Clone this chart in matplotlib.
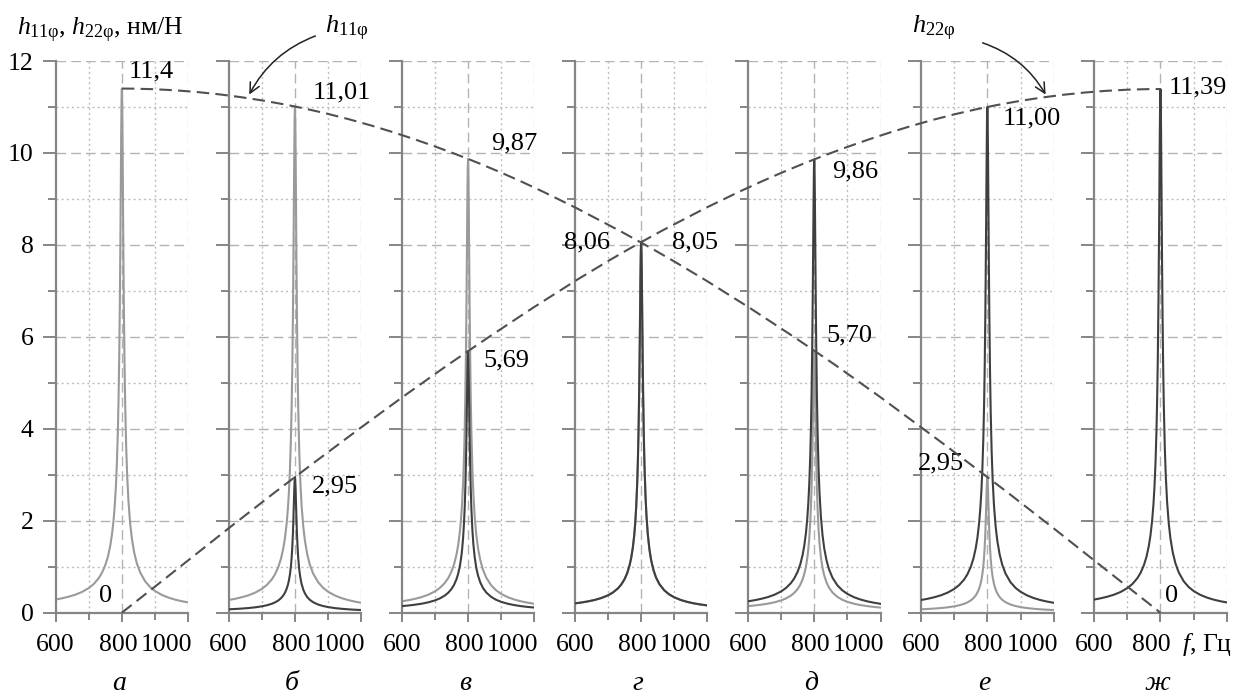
import numpy as np
import matplotlib
matplotlib.use('Agg')
import matplotlib.pyplot as plt
from matplotlib.path import Path
from matplotlib.patches import PathPatch
from matplotlib.ticker import FixedLocator, MultipleLocator

plt.rcParams['font.family'] = ['Liberation Serif', 'DejaVu Serif']
plt.rcParams['mathtext.fontset'] = 'custom'
plt.rcParams['mathtext.rm'] = 'Liberation Serif'
plt.rcParams['mathtext.it'] = 'Liberation Serif:italic'
plt.rcParams['mathtext.bf'] = 'Liberation Serif:bold'

# ---------------- data ----------------
panel_names = ['а', 'б', 'в', 'г', 'д', 'е', 'ж']
# normalised resonance response (frequency, Hz / relative amplitude)
shape_f = [600, 620, 640, 660, 680, 700, 715, 730, 740, 750, 758, 765, 770, 775, 779,
           782, 785, 788, 790, 792, 794, 795.5, 797, 798, 799, 800, 801, 802, 803,
           804.5, 806, 808, 810, 813, 816, 820, 825, 830, 837, 845, 855, 870, 885,
           900, 920, 940, 960, 980, 1000]
shape_v = [0.0251, 0.0275, 0.0306, 0.0344, 0.0396, 0.0469, 0.0546, 0.0656, 0.0760,
           0.0905, 0.1070, 0.1276, 0.1480, 0.1762, 0.2079, 0.2403, 0.2844, 0.3472,
           0.4057, 0.4849, 0.5944, 0.7023, 0.8288, 0.9124, 0.9763, 1.0, 0.9739,
           0.9083, 0.8237, 0.6962, 0.5884, 0.4790, 0.3998, 0.3178, 0.2624, 0.2121,
           0.1706, 0.1424, 0.1154, 0.0946, 0.0771, 0.0601, 0.0491, 0.0414, 0.0341,
           0.0289, 0.0250, 0.0220, 0.0196]
# peak values, nm/N
h11_peak = [11.4, 11.01, 9.87, 8.05, 5.70, 2.95, 0.0]
h22_peak = [0.0, 2.95, 5.69, 8.06, 9.86, 11.00, 11.39]
h11_text = ['11,4', '11,01', '9,87', '8,05', '5,70', '2,95', '0']
h22_text = ['0', '2,95', '5,69', '8,06', '9,86', '11,00', '11,39']
x_ticks = [600, 800, 1000]
x_minor = [700, 900]
x_ticklabels = ['600', '800', '1000']
y_ticks = [0, 2, 4, 6, 8, 10, 12]

# ---------------- layout / style ----------------
W, H = 1247, 698
LEFT0, STEP, PW = 55.5, 173.1, 132.7
YB, YT = 612.7, 61.0
FS = 19
TFS = 18.5
SPINE = '#858585'
LIGHT = '#9a9a9a'
DARK = '#3f3f3f'
GRID = '#b3b3b3'
# label offsets in pixels (dx right, dy down) relative to the peak point
h11_off = [(29, -17), (47, -14), (46, -15), (54, 0), (35, -15), (-46, -14), (11, -17)]
h22_off = [(-16, -17), (40, 9), (38, 9), (-54, 0), (41, 12), (44, 11), (37, -2)]

fig = plt.figure(figsize=(W / 100, H / 100), dpi=100)
bottom = (H - YB) / H
height = (YB - YT) / H

shape_f = np.array(shape_f)
shape_v = np.array(shape_v)

for i, name in enumerate(panel_names):
    ax = fig.add_axes([(LEFT0 + i * STEP) / W, bottom, PW / W, height])
    ax.set_xlim(600, 1000)
    ax.set_ylim(0, 12)
    for s in ('top', 'right'):
        ax.spines[s].set_visible(False)
    for s in ('left', 'bottom'):
        ax.spines[s].set_color(SPINE)
        ax.spines[s].set_linewidth(1.6)
    ax.xaxis.set_major_locator(FixedLocator(x_ticks))
    ax.xaxis.set_minor_locator(FixedLocator(x_minor))
    ax.yaxis.set_major_locator(FixedLocator(y_ticks))
    ax.yaxis.set_minor_locator(MultipleLocator(1))
    ax.tick_params(axis='y', which='major', length=9.4, width=1.4, color=SPINE,
                   direction='out', labelsize=TFS, pad=6.5, labelleft=(i == 0))
    ax.tick_params(axis='y', which='minor', length=5.8, width=1.4, color=SPINE, direction='out')
    ax.tick_params(axis='x', which='major', length=6.5, width=1.4, color=SPINE,
                   direction='out', labelbottom=False)
    ax.tick_params(axis='x', which='minor', length=5.0, width=1.4, color=SPINE, direction='out')

    # grid
    for y in range(1, 13):
        if y % 2 == 0:
            ax.axhline(y, color=GRID, lw=1.0, ls=(0, (7, 3.6)), zorder=0.5)
        else:
            ax.axhline(y, color='#bdbdbd', lw=1.0, ls=(0, (1.5, 2.2)), zorder=0.5)
    for xg in x_minor:
        ax.axvline(xg, color='#bdbdbd', lw=1.0, ls=(0, (1.5, 2.2)), zorder=0.5)
    ax.axvline(800, color=GRID, lw=1.0, ls=(0, (7, 3.6)), zorder=0.5)
    ax.axvline(1000, color='#d2d2d2', lw=1.0, ls=(0, (7, 3.6)), zorder=0.5)

    # resonance curves
    if h11_peak[i] > 0:
        ax.plot(shape_f, h11_peak[i] * shape_v, color=LIGHT, lw=1.5, zorder=2)
    if h22_peak[i] > 0:
        ax.plot(shape_f, h22_peak[i] * shape_v, color=DARK, lw=1.5, zorder=3)

    # x tick labels
    last = (i == len(panel_names) - 1)
    kw = dict(xycoords=('data', 'axes fraction'), textcoords='offset pixels',
              va='baseline', fontsize=TFS, annotation_clip=False)
    ax.annotate(x_ticklabels[0], xy=(x_ticks[0], 0), xytext=(0, -38), ha='center', **kw)
    ax.annotate(x_ticklabels[1], xy=(x_ticks[1], 0), xytext=(-9 if last else -4, -38),
                ha='center', **kw)
    if last:
        ax.annotate(r'$f$, Гц', xy=(x_ticks[1], 0), xytext=(22, -38), ha='left', **kw)
    else:
        ax.annotate(x_ticklabels[2], xy=(x_ticks[2], 0), xytext=(4, -38), ha='right', **kw)
    # panel letter
    ax.annotate(name, xy=(800, 0), xycoords=('data', 'axes fraction'),
                xytext=(-3, -77), textcoords='offset pixels', ha='center', va='baseline',
                fontsize=FS + 1, fontstyle='italic', annotation_clip=False)

# ---------------- overlay with the dashed peak curves ----------------
X0 = LEFT0 + PW / 2
ov = fig.add_axes([X0 / W, bottom, 6 * STEP / W, height], zorder=10)
ov.set_xlim(0, 6)
ov.set_ylim(0, 12)
ov.axis('off')
ov.patch.set_alpha(0)


def smooth_path(ys, flat_start, flat_end):
    pts = [np.array([k, v], dtype=float) for k, v in enumerate(ys)]
    p0, p1 = pts[0], pts[1]
    g0 = np.array([2 * p0[0] - p1[0], p1[1]]) if flat_start else 2 * p0 - p1
    pn, pm = pts[-1], pts[-2]
    g1 = np.array([2 * pn[0] - pm[0], pm[1]]) if flat_end else 2 * pn - pm
    ext = [g0] + pts + [g1]
    verts = [pts[0]]
    codes = [Path.MOVETO]
    for k in range(1, len(ext) - 2):
        c1 = ext[k] + (ext[k + 1] - ext[k - 1]) / 6
        c2 = ext[k + 1] - (ext[k + 2] - ext[k]) / 6
        verts += [c1, c2, ext[k + 1]]
        codes += [Path.CURVE4] * 3
    return Path(verts, codes)


for ys, fs_, fe_ in ((h11_peak, True, False), (h22_peak, False, True)):
    ov.add_patch(PathPatch(smooth_path(ys, fs_, fe_), fill=False, ec='#505050',
                           lw=1.5, ls=(0, (6, 3)), clip_on=False, zorder=5))

for k in range(7):
    ov.annotate(h11_text[k], xy=(k, h11_peak[k]), xytext=(h11_off[k][0], -h11_off[k][1]),
                textcoords='offset pixels', ha='center', va='center', fontsize=FS,
                annotation_clip=False)
    ov.annotate(h22_text[k], xy=(k, h22_peak[k]), xytext=(h22_off[k][0], -h22_off[k][1]),
                textcoords='offset pixels', ha='center', va='center', fontsize=FS,
                annotation_clip=False)

# arrows with curve names
ov.annotate('', xy=(248, H - 97), xycoords='figure pixels', xytext=(318, H - 35),
            textcoords='figure pixels',
            arrowprops=dict(arrowstyle='->', connectionstyle='arc3,rad=0.2', color='#222222',
                            lw=1.1, mutation_scale=18), annotation_clip=False)
ov.annotate('', xy=(1047, H - 97), xycoords='figure pixels', xytext=(980, H - 42),
            textcoords='figure pixels',
            arrowprops=dict(arrowstyle='->', connectionstyle='arc3,rad=-0.2', color='#222222',
                            lw=1.1, mutation_scale=18), annotation_clip=False)
fig.text(325 / W, (H - 33) / H, r'$h_{11\mathrm{φ}}$', ha='left', va='baseline', fontsize=FS)
fig.text(912 / W, (H - 33) / H, r'$h_{22\mathrm{φ}}$', ha='left', va='baseline', fontsize=FS)
fig.text(17 / W, (H - 35) / H, r'$h_{11\mathrm{φ}}$, $h_{22\mathrm{φ}}$, нм/Н', ha='left',
         va='baseline', fontsize=TFS)

fig.savefig('out.png', dpi=100)
